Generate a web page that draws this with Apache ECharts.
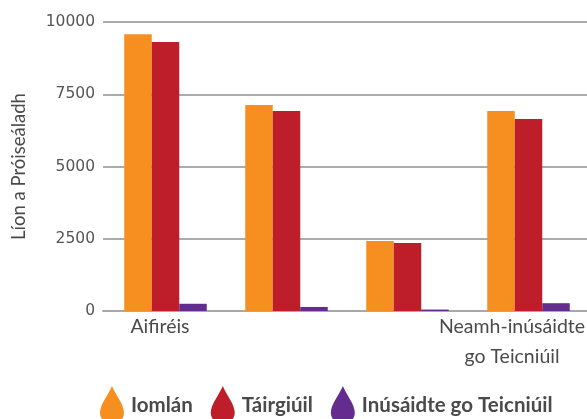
<!DOCTYPE html>
<html>
<head>
<meta charset="utf-8">
<style>
  html, body { margin: 0; padding: 0; background: #fff; }
  #chart { width: 587px; height: 419px; }
</style>
<script src="https://cdn.jsdelivr.net/npm/echarts@6/dist/echarts.min.js"></script>
</head>
<body>
<div id="chart"></div>
<script>
const categories = ["Aifiréis", "", "", "Neamh-inúsáidte\ngo Teicniúil"]
const iomlan = [9580, 7130, 2420, 6920]
const tairgiuil = [9310, 6920, 2350, 6640]
const inusaidte = [250, 140, 50, 270]
const yTicks = [0, 2500, 5000, 7500, 10000]

// taller than the space left under it, the page cuts the bottom off like the reference
const dropIcon = "path://M12 0C9 8 0 18 0 27A12 11 0 0 0 24 27C24 18 15 8 12 0Z"
const textColor = "#4a4a4c"

const chart = echarts.init(document.getElementById("chart"))

function barSeries(name, data, color, barWidth = 27.5) {
  return {
    name,
    type: "bar",
    data,
    barWidth,
    barGap: 0,
    itemStyle: { color },
    emphasis: { disabled: true },
  }
}

chart.setOption({
  animation: false,
  grid: { left: 103, right: 0, top: 22, bottom: 108, outerBoundsMode: "none" },
  legend: {
    left: 100,
    top: 386,
    padding: 0,
    itemWidth: 24,
    itemHeight: 38,
    itemGap: 18,
    icon: dropIcon,
    textStyle: {
      fontFamily: "Lato",
      fontSize: 20.5,
      fontWeight: 700,
      color: textColor,
      padding: [0, 0, 0, 2],
    },
    data: ["Iomlán", "Táirgiúil", "Inúsáidte go Teicniúil"],
  },
  xAxis: {
    type: "category",
    data: categories.map((name, i) => ({
      value: name,
      textStyle: { padding: i === 0 ? [0, 7, 0, 0] : i === 3 ? [0, 29, 0, 0] : 0 },
    })),
    axisTick: { show: false },
    axisLine: { lineStyle: { color: "#a8a8a8", width: 2 } },
    axisLabel: {
      interval: 0,
      hideOverlap: false,
      margin: 1,
      fontFamily: "Lato",
      fontSize: 19.5,
      lineHeight: 30,
      color: textColor,
    },
  },
  yAxis: {
    type: "value",
    min: 0,
    max: 10000,
    interval: yTicks[1] - yTicks[0],
    name: "Líon a Próiseáladh",
    nameLocation: "middle",
    nameGap: 74,
    nameTextStyle: { fontFamily: "Lato", fontSize: 18.5, color: textColor },
    axisLine: { show: false },
    axisTick: { show: false },
    splitLine: { lineStyle: { color: "#8f8f8f", width: 1.5 } },
    axisLabel: {
      margin: 8,
      fontFamily: "DejaVu Sans",
      fontSize: 15.5,
      color: "#555",
      formatter: value => String(value),
    },
  },
  series: [
    // empty series, only nudges the bar groups 2px to the right
    barSeries("spacer", [], "transparent", 4),
    barSeries("Iomlán", iomlan, "#f68f1f"),
    barSeries("Táirgiúil", tairgiuil, "#be1e2a"),
    barSeries("Inúsáidte go Teicniúil", inusaidte, "#652c90"),
  ],
})
</script>
</body>
</html>
